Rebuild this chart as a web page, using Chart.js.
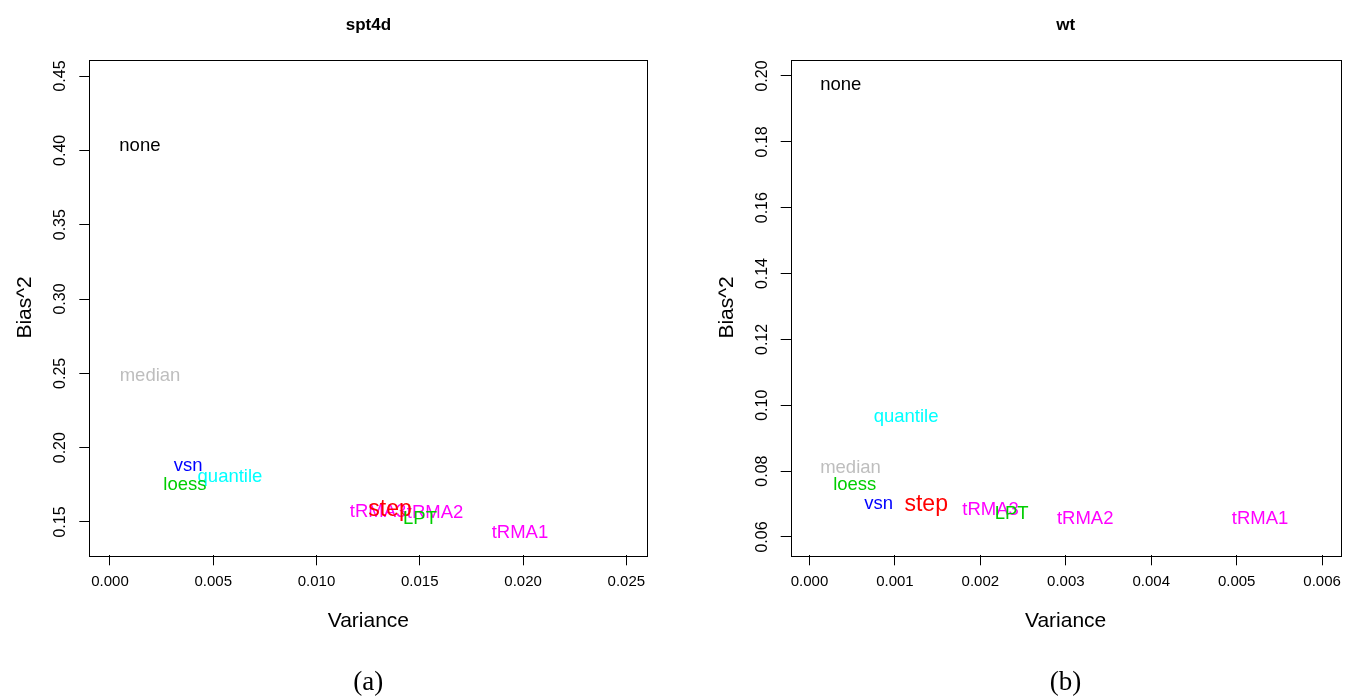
<!DOCTYPE html>
<html>
<head>
<meta charset="utf-8">
<script src="https://cdn.jsdelivr.net/npm/chart.js@4.4.1/dist/chart.umd.min.js"></script>
<style>
  html, body { margin: 0; padding: 0; background: #ffffff; }
  body { width: 1349px; height: 700px; position: relative; overflow: hidden; }
  .panel { position: absolute; top: 0; height: 700px; }
</style>
</head>
<body>
<div class="panel" style="left:0px; width:674px;"><canvas id="chartA" width="674" height="700"></canvas></div>
<div class="panel" style="left:674px; width:675px;"><canvas id="chartB" width="675" height="700"></canvas></div>

<script>
// panel (a): spt4d
const methodsA = ["none", "median", "quantile", "vsn", "loess", "tRMA1", "tRMA2", "tRMA3", "step", "LPT"];
const varianceA = [0.00145, 0.00194, 0.00581, 0.00378, 0.00363, 0.01985, 0.01574, 0.01298, 0.01356, 0.01501];
const biasA = [0.4043, 0.2495, 0.1816, 0.1890, 0.1762, 0.1439, 0.1574, 0.1581, 0.1594, 0.1534];
const xTicksA = [0, 0.005, 0.010, 0.015, 0.020, 0.025];
const yTicksA = [0.15, 0.20, 0.25, 0.30, 0.35, 0.40, 0.45];

// panel (b): wt
const methodsB = ["none", "quantile", "median", "loess", "vsn", "tRMA1", "tRMA2", "tRMA3", "step", "LPT"];
const varianceB = [0.000366, 0.00113, 0.00048, 0.00053, 0.00081, 0.005273, 0.003227, 0.00212, 0.001366, 0.002366];
const biasB = [0.1976, 0.0968, 0.0814, 0.0763, 0.0705, 0.0660, 0.0660, 0.0687, 0.0702, 0.0674];
const xTicksB = [0, 0.001, 0.002, 0.003, 0.004, 0.005, 0.006];
const yTicksB = [0.06, 0.08, 0.10, 0.12, 0.14, 0.16, 0.18, 0.20];

const methodColors = {
  none: "#000000", median: "#bebebe", vsn: "#0000ff", quantile: "#00ffff",
  loess: "#00cd00", LPT: "#00cd00", step: "#ff0000",
  tRMA1: "#ff00ff", tRMA2: "#ff00ff", tRMA3: "#ff00ff"
};

const SANS = "'Liberation Sans', Arial, Helvetica, sans-serif";

// writes each method name at its (variance, bias) point
const labelPlugin = {
  id: "methodLabels",
  afterDatasetsDraw(chart) {
    const ctx = chart.ctx;
    ctx.save();
    ctx.textAlign = "center";
    ctx.textBaseline = "middle";
    chart.data.datasets.forEach((ds, i) => {
      const meta = chart.getDatasetMeta(i);
      meta.data.forEach(pt => {
        ctx.fillStyle = ds.labelColor;
        ctx.font = (ds.label === "step" ? "23px " : "18.5px ") + SANS;
        ctx.fillText(ds.label, pt.x, pt.y + 1.5);
      });
    });
    ctx.restore();
  }
};

// box, rotated y tick labels, title and caption (R style)
const framePlugin = {
  id: "rFrame",
  afterDraw(chart) {
    const ctx = chart.ctx;
    const a = chart.chartArea;
    const opts = chart.options.plugins.rFrame;
    ctx.save();
    ctx.strokeStyle = "#000000";
    ctx.lineWidth = 1;
    ctx.strokeRect(Math.round(a.left) + 0.5, Math.round(a.top) + 0.5,
      Math.round(a.right - a.left), Math.round(a.bottom - a.top));

    const yScale = chart.scales.y;
    ctx.fillStyle = "#000000";
    ctx.font = "16px " + SANS;
    ctx.textAlign = "center";
    ctx.textBaseline = "middle";
    yScale.ticks.forEach(t => {
      const py = yScale.getPixelForValue(t.value);
      ctx.save();
      ctx.translate(a.left - 28.5, py);
      ctx.rotate(-Math.PI / 2);
      ctx.fillText(t.value.toFixed(2), 0, 0);
      ctx.restore();
    });

    const cx = (a.left + a.right) / 2;
    ctx.font = "bold 17px " + SANS;
    ctx.fillText(opts.title, cx, 25);
    ctx.font = "27px 'Liberation Serif', 'DejaVu Serif', serif";
    ctx.fillText(opts.caption, cx, 683);
    ctx.restore();
  }
};

function makePanel(canvasId, cfg) {
  const datasets = cfg.methods.map((m, i) => ({
    label: m,
    labelColor: methodColors[m],
    data: [{ x: cfg.variance[i], y: cfg.bias[i] }],
    pointRadius: 0,
    pointHoverRadius: 0
  }));

  return new Chart(document.getElementById(canvasId), {
    type: "scatter",
    data: { datasets: datasets },
    plugins: [labelPlugin, framePlugin],
    options: {
      responsive: false,
      animation: false,
      events: [],
      layout: { padding: { top: 59.5, right: cfg.padRight, bottom: 0, left: 0 } },
      plugins: {
        legend: { display: false },
        tooltip: { enabled: false },
        rFrame: { title: cfg.title, caption: cfg.caption }
      },
      scales: {
        x: {
          type: "linear",
          min: cfg.xMin,
          max: cfg.xMax,
          afterBuildTicks: s => { s.ticks = cfg.xTicks.map(v => ({ value: v })); },
          afterFit: s => { s.height = 144.7; },
          border: { display: false },
          grid: { drawOnChartArea: false, drawTicks: true, tickLength: 10, color: "#000000" },
          ticks: {
            color: "#000000",
            font: { family: SANS, size: 15 },
            padding: 8,
            maxRotation: 0,
            autoSkip: false,
            callback: v => Number(v).toFixed(3)
          },
          title: {
            display: true,
            text: "Variance",
            color: "#000000",
            font: { family: SANS, size: 21 },
            padding: { top: 0, bottom: 66.4 }
          }
        },
        y: {
          type: "linear",
          min: cfg.yMin,
          max: cfg.yMax,
          afterBuildTicks: s => { s.ticks = cfg.yTicks.map(v => ({ value: v })); },
          afterFit: s => { s.width = cfg.yWidth; },
          border: { display: false },
          grid: { drawOnChartArea: false, drawTicks: true, tickLength: 10, color: "#000000" },
          ticks: { display: false },
          title: {
            display: true,
            text: "Bias^2",
            color: "#000000",
            font: { family: SANS, size: 21 },
            padding: { top: cfg.yTitlePad, bottom: 0 }
          }
        }
      }
    }
  });
}

makePanel("chartA", {
  methods: methodsA, variance: varianceA, bias: biasA,
  xTicks: xTicksA, yTicks: yTicksA,
  xMin: -0.001, xMax: 0.02602, yMin: 0.1276, yMax: 0.4611,
  yWidth: 89.3, padRight: 26.6, yTitlePad: 12.4,
  title: "spt4d", caption: "(a)"
});

makePanel("chartB", {
  methods: methodsB, variance: varianceB, bias: biasB,
  xTicks: xTicksB, yTicks: yTicksB,
  xMin: -0.00022, xMax: 0.006215, yMin: 0.05444, yMax: 0.205,
  yWidth: 116.7, padRight: 3, yTitlePad: 40.4,
  title: "wt", caption: "(b)"
});
</script>
</body>
</html>
